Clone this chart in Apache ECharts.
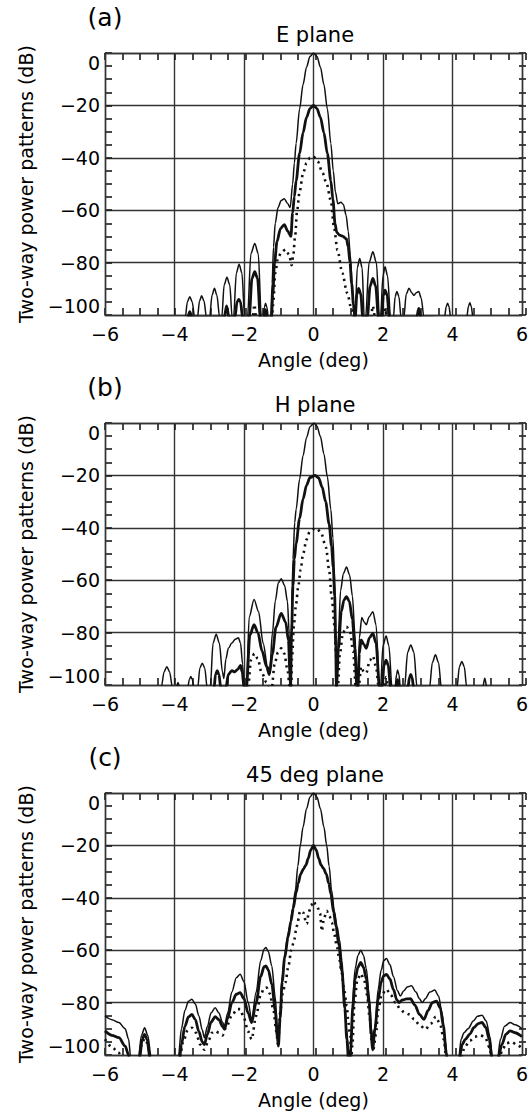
<!DOCTYPE html>
<html><head><meta charset="utf-8">
<script src="https://cdn.jsdelivr.net/npm/echarts@6/dist/echarts.min.js"></script>
<style>html,body{margin:0;padding:0;background:#fff}#c{width:531px;height:1117px}</style>
</head><body><div id="c"></div>
<script>
// Axis settings
const xMin = -6, xMax = 6, xStep = 2, xMinorStep = 0.5;
const yMin = -100, yMax = 0, yStep = 20, yMinorStep = 5;
const panelTags = ['(a)', '(b)', '(c)'];
const panelTitles = ['E plane', 'H plane', '45 deg plane'];
const xName = 'Angle (deg)';
const yName = 'Two-way power patterns (dB)';

// Panel (a) E plane: [angle deg, dB]
const aThin = [[-6,-105],[-3.72,-105],
[-3.69,-101],[-3.63,-95],[-3.56,-93],[-3.49,-95],[-3.42,-101],
[-3.34,-101],[-3.28,-94.7],[-3.22,-92.7],[-3.15,-94.7],[-3.08,-101],
[-2.99,-101],[-2.92,-92.5],[-2.85,-89.8],[-2.78,-92.5],[-2.7,-101],
[-2.64,-101],[-2.57,-88.5],[-2.49,-85.6],[-2.41,-88.5],[-2.34,-101],
[-2.3,-101],[-2.22,-84],[-2.14,-80.6],[-2.06,-84],[-1.98,-101],
[-1.9,-101],[-1.8,-76.5],[-1.69,-72.7],[-1.59,-76.5],[-1.5,-101],
[-1.45,-101],[-1.41,-97],[-1.38,-95.5],[-1.34,-97],[-1.3,-101],
[-1.23,-101],[-1.19,-88],[-1.15,-74],[-1.1,-65],[-1.02,-59],[-0.93,-56.3],[-0.84,-55.6],[-0.75,-57.3],[-0.67,-59],
[-0.6,-50],[-0.55,-42],[-0.5,-34.5],[-0.4,-21.4],[-0.3,-12],[-0.2,-5.4],[-0.1,-1.3],[0,0],
[0.1,-1.3],[0.2,-5.4],[0.3,-12],[0.4,-21.4],[0.5,-34.5],[0.57,-45],[0.63,-53],[0.7,-57.5],[0.79,-57],[0.86,-57.8],
[0.94,-62],[1.0,-68],[1.06,-77],[1.12,-90],[1.17,-101],
[1.2,-101],[1.26,-82],[1.33,-78.4],[1.4,-82],[1.46,-101],
[1.5,-101],[1.6,-80],[1.71,-75.9],[1.81,-80],[1.9,-101],
[1.93,-101],[2.0,-85],[2.06,-81.6],[2.13,-85],[2.22,-101],
[2.3,-101],[2.35,-93],[2.4,-91],[2.46,-93],[2.52,-101],
[2.6,-101],[2.67,-92],[2.75,-89.8],[2.83,-91.5],[2.89,-92.5],[2.96,-91.5],[3.03,-91],[3.1,-93.5],[3.18,-101],
[3.77,-101],[3.82,-96.8],[3.86,-95.5],[3.9,-96.8],[3.95,-101],
[4.41,-101],[4.46,-96.7],[4.5,-95.3],[4.54,-96.7],[4.59,-101],[6,-105]];

const aThick = [[-6,-105],[-3.64,-105],
[-3.62,-101],[-3.56,-98.7],[-3.5,-101],
[-2.57,-101],[-2.5,-96.5],[-2.43,-101],
[-2.26,-101],[-2.2,-95],[-2.15,-94],[-2.1,-95],[-2.04,-101],
[-1.85,-101],[-1.77,-86],[-1.69,-83.5],[-1.61,-86],[-1.53,-101],
[-1.42,-101],[-1.38,-98],[-1.34,-101],
[-1.21,-101],[-1.17,-92],[-1.12,-80],[-1.05,-72],[-0.95,-67],[-0.84,-65.5],[-0.74,-68],[-0.65,-70],
[-0.6,-61],[-0.55,-54.8],[-0.5,-48.8],[-0.4,-38.4],[-0.3,-30.4],[-0.2,-24.6],[-0.1,-21.2],[0,-20],
[0.1,-21.2],[0.2,-24.6],[0.3,-30.4],[0.4,-38.4],[0.5,-48.8],[0.56,-56],[0.62,-65],[0.67,-68.5],[0.75,-69.5],[0.85,-70],[0.95,-71],
[1.0,-74],[1.05,-80],[1.1,-88],[1.15,-96],[1.2,-101],
[1.25,-92],[1.3,-89.8],[1.36,-92],[1.42,-101],
[1.55,-101],[1.63,-89],[1.71,-86],[1.79,-89],[1.87,-101],
[1.96,-101],[2.01,-92.5],[2.06,-90.5],[2.12,-92.5],[2.18,-101],
[2.97,-101],[3.03,-97.5],[3.09,-101],[6,-105]];

const aDotted = [[-6,-105],[-1.77,-105],
[-1.75,-101],[-1.7,-96],[-1.65,-101],
[-1.2,-101],[-1.16,-96],[-1.1,-84],[-1.02,-78],[-0.92,-76],[-0.8,-75],[-0.7,-77],[-0.63,-81],
[-0.58,-77],[-0.53,-70],[-0.47,-60],[-0.4,-53],[-0.3,-46],[-0.2,-42],[-0.1,-40],[0,-39.5],
[0.12,-41.3],[0.26,-45.7],[0.38,-50],[0.5,-56.4],[0.59,-66.4],[0.69,-75.2],[0.83,-84],[0.97,-91.6],[1.1,-98],[1.15,-101],
[1.65,-101],[1.71,-96.5],[1.77,-101],
[2.0,-101],[2.06,-97.5],[2.12,-101],[6,-105]];

// Panel (b) H plane
const bThin = [[-6,-105],[-4.4,-105],
[-4.38,-101],[-4.3,-95],[-4.22,-93],[-4.14,-95],[-4.06,-101],
[-3.95,-101],[-3.9,-99],[-3.85,-101],
[-3.62,-101],[-3.57,-97.8],[-3.53,-96.8],[-3.49,-97.8],[-3.44,-101],
[-3.33,-101],[-3.27,-93.5],[-3.2,-91.7],[-3.13,-93.5],[-3.06,-101],
[-2.97,-101],[-2.89,-84],[-2.8,-80.6],[-2.71,-84],[-2.62,-95],[-2.58,-97.5],
[-2.52,-90],[-2.45,-86],[-2.35,-84],[-2.25,-82.5],[-2.16,-82],[-2.1,-84],[-2.04,-92],[-2.0,-101],
[-1.93,-101],[-1.85,-74],[-1.71,-67.4],[-1.58,-72],[-1.45,-84],[-1.32,-93],[-1.26,-94.5],
[-1.18,-80],[-1.1,-68],[-1.01,-61],[-0.93,-59.4],[-0.83,-62],[-0.75,-68],[-0.7,-80],[-0.66,-101],
[-0.63,-75],[-0.59,-52],[-0.54,-38],[-0.5,-33],[-0.4,-21.5],[-0.3,-12.5],[-0.2,-5.6],[-0.1,-1.4],[0.02,0],
[0.1,-1.2],[0.2,-5.2],[0.3,-11.8],[0.4,-20.5],[0.5,-33],[0.56,-44],[0.61,-60],[0.64,-78],[0.67,-101],
[0.72,-80],[0.78,-64],[0.86,-57.5],[0.95,-55],[1.04,-58],[1.12,-66],[1.19,-80],[1.25,-101],
[1.28,-101],[1.32,-82],[1.39,-74.2],[1.46,-76],[1.52,-77],[1.6,-74],[1.71,-72],[1.8,-77],[1.9,-101],
[1.93,-101],[2.0,-85],[2.09,-81.3],[2.17,-85],[2.26,-101],
[2.35,-101],[2.39,-96],[2.42,-94.3],[2.46,-96],[2.5,-101],
[2.62,-101],[2.71,-87.5],[2.8,-84.7],[2.89,-87.5],[2.98,-101],
[3.34,-101],[3.42,-91.5],[3.51,-88.5],[3.6,-91.5],[3.68,-101],
[4.13,-101],[4.2,-93],[4.27,-91],[4.34,-93],[4.41,-101],
[4.87,-101],[4.93,-97.4],[4.99,-101],[6,-105]];

const bThick = [[-6,-105],[-2.88,-105],
[-2.86,-101],[-2.82,-96],[-2.77,-94.5],[-2.72,-96],[-2.67,-101],
[-2.52,-101],[-2.45,-96],[-2.35,-94.5],[-2.27,-95],[-2.18,-94],[-2.1,-92.5],[-2.05,-95],[-2.0,-101],
[-1.93,-101],[-1.83,-81],[-1.71,-77],[-1.6,-80],[-1.48,-87],[-1.35,-93],[-1.27,-96],
[-1.18,-88],[-1.08,-78],[-0.93,-72.7],[-0.8,-76],[-0.72,-83],[-0.68,-95],[-0.66,-101],
[-0.63,-80],[-0.59,-62],[-0.55,-52],[-0.5,-46],[-0.4,-36.5],[-0.3,-29],[-0.2,-23.8],[-0.1,-20.8],[0.05,-20],
[0.15,-21],[0.25,-24.5],[0.35,-30],[0.45,-38.5],[0.52,-47],[0.57,-55],[0.61,-66],[0.64,-85],[0.66,-101],
[0.72,-86],[0.8,-72],[0.88,-67.5],[0.95,-66.3],[1.03,-68],[1.12,-75],[1.19,-86],[1.25,-101],
[1.28,-101],[1.32,-88],[1.37,-82.8],[1.45,-84.5],[1.52,-86],[1.61,-82],[1.71,-80.3],[1.8,-84],[1.9,-101],
[1.97,-101],[2.03,-92.5],[2.09,-90.5],[2.15,-92.5],[2.22,-101],
[2.37,-101],[2.42,-98],[2.47,-101],
[2.72,-101],[2.76,-97.2],[2.8,-96],[2.84,-97.2],[2.88,-101],[6,-105]];

const bDotted = [[-6,-105],[-1.9,-105],
[-1.88,-101],[-1.8,-90.5],[-1.7,-88],[-1.6,-90],[-1.5,-95],[-1.35,-99],[-1.28,-101],
[-1.2,-101],[-1.12,-92],[-1.02,-87.5],[-0.93,-86],[-0.84,-88],[-0.75,-94],[-0.68,-101],
[-0.64,-101],[-0.62,-90],[-0.56,-76.5],[-0.5,-69],[-0.44,-62.6],[-0.37,-56],[-0.3,-50],[-0.2,-44.5],[-0.11,-41.5],[0,-40.5],
[0.1,-40.3],[0.22,-42],[0.36,-47.5],[0.45,-56],[0.52,-66],[0.61,-77.7],[0.65,-88],[0.67,-101],
[0.7,-101],[0.76,-88],[0.85,-80],[0.95,-77.8],[1.05,-79.5],[1.14,-87],[1.22,-101],
[1.3,-101],[1.37,-93],[1.45,-95],[1.52,-95.5],[1.62,-90.5],[1.71,-89],[1.8,-93],[1.88,-101],
[2.03,-101],[2.09,-97],[2.15,-101],[6,-105]];

// Panel (c) 45 deg plane
const cThin = [[-6,-85.1],[-5.8,-86.5],[-5.6,-87.6],[-5.42,-90],[-5.32,-94],[-5.26,-101],[-5.2,-105],
[-5.04,-101],[-4.95,-92.5],[-4.86,-89.6],[-4.77,-92.5],[-4.67,-101],[-4.3,-106],
[-3.89,-101],[-3.8,-90],[-3.7,-83],[-3.6,-79.5],[-3.5,-78.7],[-3.4,-80.5],[-3.3,-85],[-3.2,-90.5],[-3.14,-93.4],
[-3.05,-89],[-2.95,-84],[-2.83,-82],[-2.72,-84],[-2.62,-87.5],[-2.56,-89],
[-2.47,-84],[-2.35,-76],[-2.22,-70.5],[-2.11,-69.2],[-2.0,-72],[-1.88,-80],[-1.78,-86.4],
[-1.65,-76],[-1.52,-64],[-1.42,-59.5],[-1.37,-59],[-1.3,-60.5],[-1.2,-66],[-1.1,-78],[-1.04,-90],[-1.01,-95.3],
[-0.97,-86],[-0.9,-70],[-0.82,-61],[-0.74,-54],[-0.68,-51],[-0.6,-44],[-0.52,-37],[-0.45,-28],[-0.38,-20],[-0.3,-13],[-0.2,-6],[-0.1,-1.5],[0,0],
[0.1,-1.5],[0.2,-6],[0.3,-13],[0.38,-20],[0.45,-28],[0.52,-37],[0.6,-45],[0.68,-51],[0.75,-56],[0.82,-64],[0.88,-76],[0.95,-90],[1.0,-97],[1.04,-105],
[1.07,-100],[1.12,-80],[1.2,-67],[1.28,-62],[1.36,-60],[1.44,-62],[1.52,-67],[1.6,-77],[1.67,-90],[1.72,-96],
[1.78,-88],[1.86,-75],[1.95,-67.5],[2.02,-64],[2.1,-63.2],[2.2,-65.5],[2.3,-70],[2.42,-75.5],[2.5,-77.5],
[2.6,-75.5],[2.7,-74],[2.82,-73.6],[2.95,-76],[3.05,-78.5],[3.13,-80],[3.22,-78.5],[3.35,-76],[3.49,-75.2],
[3.6,-77.5],[3.7,-84],[3.8,-95],[3.87,-105],[4.1,-106],
[4.18,-101],[4.25,-94],[4.33,-91.5],[4.45,-90],[4.6,-87],[4.72,-85.2],[4.85,-84.8],[4.97,-87],[5.08,-93],[5.15,-101],[5.2,-106],
[5.3,-101],[5.38,-94],[5.5,-89],[5.66,-87.6],[5.8,-88.5],[6,-90]];

const cThick = [[-6,-90.8],[-5.8,-92.5],[-5.6,-93.4],[-5.42,-96.6],[-5.32,-100],[-5.27,-105],
[-5.0,-101],[-4.93,-94],[-4.86,-92.1],[-4.79,-94],[-4.71,-101],[-4.3,-106],
[-3.86,-102],[-3.8,-96],[-3.7,-89],[-3.6,-85.5],[-3.5,-84.5],[-3.4,-86.5],[-3.3,-91],[-3.2,-95],[-3.14,-96],
[-3.05,-92],[-2.95,-87.5],[-2.83,-85.4],[-2.72,-86.5],[-2.62,-89],[-2.56,-90.2],
[-2.47,-86],[-2.35,-80],[-2.22,-76.8],[-2.11,-76.2],[-2.0,-78.5],[-1.88,-84],[-1.78,-87.6],
[-1.65,-80],[-1.52,-70],[-1.42,-66.3],[-1.37,-66],[-1.3,-67.5],[-1.2,-73],[-1.1,-83],[-1.04,-93],[-1.01,-96.6],
[-0.96,-86],[-0.9,-72],[-0.83,-63],[-0.73,-55],[-0.65,-49],[-0.58,-44],[-0.5,-38],[-0.44,-34.5],[-0.37,-31],[-0.29,-29],[-0.22,-27.5],[-0.15,-25],[-0.08,-21.8],[0,-20],
[0.08,-21.8],[0.15,-25],[0.22,-27.5],[0.29,-28.8],[0.37,-31],[0.44,-34.5],[0.5,-38.5],[0.58,-45.5],[0.65,-51],[0.73,-58],[0.82,-68],[0.9,-82],[0.96,-94],[1.02,-104],
[1.07,-98],[1.13,-82],[1.2,-71],[1.28,-66.5],[1.36,-64.7],[1.44,-66.5],[1.52,-71],[1.6,-80],[1.66,-92],[1.7,-98],
[1.77,-90],[1.86,-79],[1.95,-72],[2.02,-69.8],[2.1,-69.2],[2.2,-71],[2.3,-75],[2.4,-79],[2.46,-80],
[2.56,-79],[2.68,-78.6],[2.79,-78.5],[2.92,-81],[3.05,-84.5],[3.18,-86.4],[3.3,-83],[3.42,-80],[3.54,-79.4],
[3.65,-82],[3.74,-89],[3.82,-99],[3.88,-106],[4.1,-106],
[4.2,-101],[4.28,-96],[4.37,-94],[4.5,-92],[4.62,-89.5],[4.74,-88],[4.85,-87.6],[4.96,-89.5],[5.06,-94],[5.13,-101],[5.2,-106],
[5.32,-101],[5.42,-96],[5.54,-92],[5.66,-90.8],[5.8,-91.5],[6,-93]];

const cDotted = [[-6,-94],[-5.8,-97],[-5.62,-99],[-5.5,-101],[-5.3,-105],
[-5.02,-101],[-4.94,-95.5],[-4.86,-93.8],[-4.78,-95.5],[-4.7,-101],[-4.3,-106],
[-3.85,-101],[-3.75,-95],[-3.62,-90.5],[-3.5,-89.6],[-3.38,-91.5],[-3.26,-96],[-3.14,-98],
[-3.02,-94.5],[-2.92,-91.5],[-2.83,-90.8],[-2.72,-91.5],[-2.62,-92.5],
[-2.5,-89],[-2.35,-85],[-2.2,-82.5],[-2.11,-82.5],[-2.0,-86],[-1.88,-91],[-1.78,-94],
[-1.65,-85],[-1.52,-77],[-1.42,-74.5],[-1.35,-74.3],[-1.26,-76.5],[-1.15,-83],[-1.07,-91],[-1.02,-96],
[-0.96,-83.8],[-0.88,-76],[-0.81,-72.4],[-0.72,-66],[-0.64,-60],[-0.57,-57],[-0.48,-50.8],[-0.38,-45],[-0.29,-45.7],[-0.22,-49],[-0.19,-50],[-0.14,-45.7],[-0.07,-43],[0,-41.3],
[0.07,-42.5],[0.13,-44],[0.19,-46],[0.24,-52.7],[0.3,-48],[0.38,-45],[0.46,-47],[0.53,-49.5],[0.6,-54],[0.67,-58.4],[0.74,-63],[0.81,-68.6],[0.88,-75],[0.96,-81.3],[1.0,-87],[1.05,-92.7],[1.09,-101],
[1.12,-96],[1.18,-80],[1.26,-71.5],[1.36,-69],[1.46,-71.5],[1.54,-77],[1.62,-86],[1.68,-95],[1.72,-98],
[1.8,-92],[1.86,-83],[1.96,-77],[2.1,-74.9],[2.22,-77],[2.36,-80],[2.5,-82.5],[2.62,-83.8],[2.76,-84.5],[2.9,-86.4],[3.05,-88.5],[3.22,-90.2],[3.38,-88],[3.52,-85.4],[3.64,-88],[3.75,-94],[3.82,-101],[4.0,-106],
[4.25,-101],[4.35,-97],[4.5,-94.5],[4.65,-93],[4.8,-92.4],[4.95,-93.5],[5.06,-97],[5.13,-101],[5.25,-106],
[5.35,-101],[5.45,-97.5],[5.56,-95.5],[5.7,-95],[5.85,-96],[6,-97.5]];

const panels = [[aThin, aThick, aDotted],[bThin, bThick, bDotted],[cThin, cThick, cDotted]];

// ---------- layout / styling ----------
const FONT = 'DejaVu Sans';
const INK = '#111';
const GRIDC = '#333';
const TICKC = '#1a1a1a';
const panelTop = [53, 423, 793];
const panelH = 262;
const gLeft = 105, gRight = 5;
const tickLen = 7;
const fmt = v => String(v).replace('-', '\u2212');

const grids = [], xAxes = [], yAxes = [], series = [], graphics = [];
panelTop.forEach((top, i) => {
  grids.push({left: gLeft, right: gRight, top: top, height: panelH, show: false, containLabel: false});
  xAxes.push({type: 'value', gridIndex: i, position: 'bottom', min: xMin, max: xMax, interval: xStep,
    axisLine: {show: true, onZero: false, lineStyle: {color: GRIDC, width: 1.4}},
    axisTick: {show: false},
    splitLine: {show: true, lineStyle: {color: GRIDC, width: 1.4}},
    axisLabel: {show: true, formatter: fmt, fontFamily: FONT, fontSize: 19, color: '#000', margin: 9},
    name: xName, nameLocation: 'middle', nameGap: 35,
    nameTextStyle: {fontFamily: FONT, fontSize: 19, color: '#000'}});
  xAxes.push({type: 'value', gridIndex: i, position: 'top', min: xMin, max: xMax, interval: xStep,
    axisLine: {show: true, onZero: false, lineStyle: {color: GRIDC, width: 1.4}},
    axisTick: {show: false}, splitLine: {show: false}, axisLabel: {show: false}});
  xAxes.push({type: 'value', gridIndex: i, position: 'bottom', min: xMin, max: xMax, interval: xStep, show: false});

  yAxes.push({type: 'value', gridIndex: i, position: 'left', min: yMin, max: yMax, interval: yStep,
    axisLine: {show: true, onZero: false, lineStyle: {color: GRIDC, width: 1.4}},
    axisTick: {show: false},
    splitLine: {show: true, lineStyle: {color: GRIDC, width: 1.4}},
    axisLabel: {show: true, formatter: fmt, fontFamily: FONT, fontSize: 19, color: '#000', margin: 5,
      verticalAlignMaxLabel: 'top', verticalAlignMinLabel: 'bottom'},
    name: yName, nameLocation: 'middle', nameGap: 70, nameRotate: 90,
    nameTextStyle: {fontFamily: FONT, fontSize: 19, color: '#000'}});
  yAxes.push({type: 'value', gridIndex: i, position: 'right', min: yMin, max: yMax, interval: yStep,
    axisLine: {show: true, onZero: false, lineStyle: {color: GRIDC, width: 1.4}},
    axisTick: {show: false}, splitLine: {show: false}, axisLabel: {show: false}});
  yAxes.push({type: 'value', gridIndex: i, position: 'left', min: yMin, max: yMax, interval: yStep, show: false});

  const [thin, thick, dotted] = panels[i];
  const common = {type: 'line', xAxisIndex: 3 * i, yAxisIndex: 3 * i, showSymbol: false, symbol: 'none',
    smooth: 0.3, smoothMonotone: 'x', clip: true, silent: true, animation: false};
  series.push(Object.assign({}, common, {name: 'thin' + i, data: thin, lineStyle: {color: INK, width: 1.5}}));
  series.push(Object.assign({}, common, {name: 'thick' + i, data: thick, lineStyle: {color: INK, width: 2.8}}));
  series.push(Object.assign({}, common, {name: 'dotted' + i, data: dotted,
    lineStyle: {color: INK, width: 2.6, type: [2.2, 4.2], cap: 'butt'}}));

  graphics.push({type: 'text', x: 105, y: top - 36, style: {text: panelTags[i], font: '25px ' + FONT,
    fill: '#000', align: 'center', verticalAlign: 'middle'}});
  graphics.push({type: 'text', x: 315, y: top - 18, style: {text: panelTitles[i], font: '21px ' + FONT,
    fill: '#000', align: 'center', verticalAlign: 'middle'}});
});

// Minor tick strips: narrow grids along each plot edge whose split lines form the inward ticks
const tickLine = {show: true, lineStyle: {color: TICKC, width: 1.6}};
panelTop.forEach((top) => {
  const strips = [
    {grid: {left: gLeft, right: gRight, top: top, height: tickLen}, horiz: true},
    {grid: {left: gLeft, right: gRight, top: top + panelH - tickLen, height: tickLen}, horiz: true},
    {grid: {left: gLeft, width: tickLen, top: top, height: panelH}, horiz: false},
    {grid: {right: gRight, width: tickLen, top: top, height: panelH}, horiz: false}
  ];
  strips.forEach(s => {
    const g = grids.length;
    grids.push(Object.assign({show: false, containLabel: false}, s.grid));
    if (s.horiz) {
      xAxes.push({type: 'value', gridIndex: g, min: xMin, max: xMax, interval: xMinorStep,
        axisLine: {show: false}, axisTick: {show: false}, axisLabel: {show: false}, splitLine: tickLine});
      yAxes.push({type: 'value', gridIndex: g, min: 0, max: 1, show: false});
    } else {
      xAxes.push({type: 'value', gridIndex: g, min: 0, max: 1, show: false});
      yAxes.push({type: 'value', gridIndex: g, min: yMin, max: yMax, interval: yMinorStep,
        axisLine: {show: false}, axisTick: {show: false}, axisLabel: {show: false}, splitLine: tickLine});
    }
  });
});

const chart = echarts.init(document.getElementById('c'), null, {renderer: 'svg', width: 531, height: 1117});
chart.setOption({animation: false, backgroundColor: '#fff', grid: grids, xAxis: xAxes, yAxis: yAxes,
  series: series, graphic: graphics});
</script></body></html>
